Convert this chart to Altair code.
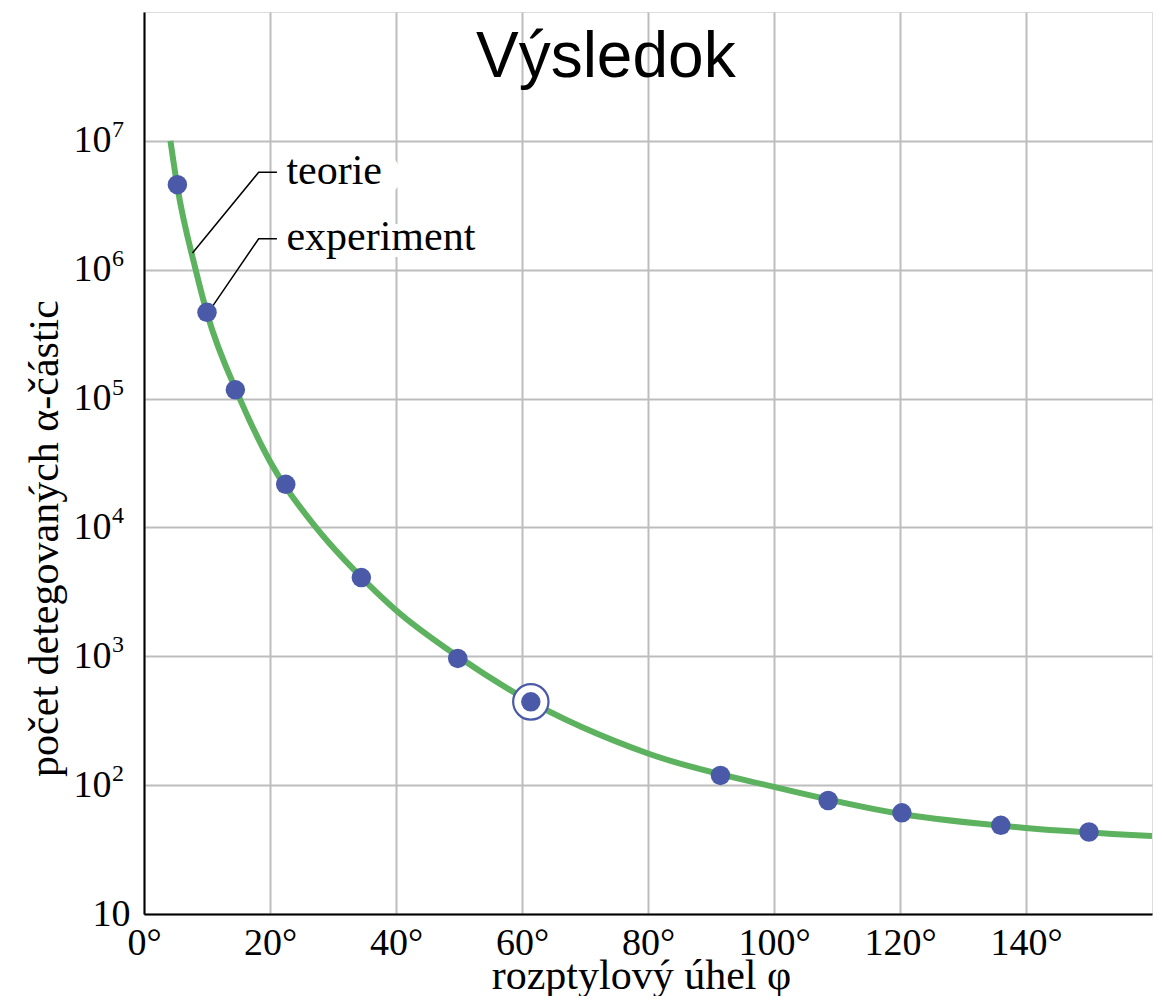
import altair as alt
import pandas as pd

# experiment (blue dots)
exp_angle = [5.3, 10.0, 14.5, 22.5, 34.5, 49.8, 61.4, 91.5, 108.6, 120.3, 136.0, 150.0]
exp_count = [4.57e6, 4.67e5, 1.17e5, 2.16e4, 4.08e3, 962, 443, 119, 76, 61, 48.8, 43.3]

# theory curve (green)
th_angle = [4.2, 5.26, 8.2, 10.0, 15.2, 20, 27.3, 34.5, 40, 49.8, 60, 80, 100, 120, 140, 160]
th_count = [1.0e7, 4.5e6, 1.0e6, 4.6e5, 1.0e5, 3.25e4, 1.0e4, 4.1e3, 2.28e3, 1.0e3, 484, 176, 97, 60, 46.5, 40.3]

# highlighted measurement
ring_angle = [61.4]
ring_count = [443]

# annotation labels and their leader lines
label_text = ["teorie", "experiment"]
label_angle = [22.6, 22.6]
label_count = [4.65e6, 1.42e6]
leader_group = ["teorie"] * 3 + ["experiment"] * 3
leader_order = [0, 1, 2, 0, 1, 2]
leader_angle = [7.7, 18.2, 21.1, 10.95, 18.2, 21.1]
leader_count = [1.35e6, 5.7e6, 5.7e6, 5.26e5, 1.74e6, 1.74e6]

title_text = ["Výsledok"]
title_angle = [73.3]
title_count = [3.12e7]

x_ticks = [0, 20, 40, 60, 80, 100, 120, 140]
y_ticks = [10, 100, 1e3, 1e4, 1e5, 1e6, 1e7]
# exponents written as superscripts next to the "10" tick labels
exp_tick_values = [1e2, 1e3, 1e4, 1e5, 1e6, 1e7]
exp_tick_text = ["2", "3", "4", "5", "6", "7"]

GREEN = "#5cb25e"
BLUE = "#4a5aa8"
GRID = "#bdbdbd"
SERIF = "Liberation Serif"

exp_df = pd.DataFrame({"angle": exp_angle, "count": exp_count})
th_df = pd.DataFrame({"angle": th_angle, "count": th_count})
ring_df = pd.DataFrame({"angle": ring_angle, "count": ring_count})
lab_df = pd.DataFrame({"angle": label_angle, "count": label_count, "text": label_text})
lead_df = pd.DataFrame({"angle": leader_angle, "count": leader_count,
                        "grp": leader_group, "ord": leader_order})
title_df = pd.DataFrame({"angle": title_angle, "count": title_count, "text": title_text})
sup_df = pd.DataFrame({"count": exp_tick_values, "text": exp_tick_text})

x_enc = alt.X(
    "angle:Q",
    scale=alt.Scale(domain=[0, 160], nice=False, zero=False),
    axis=alt.Axis(
        values=x_ticks,
        labelExpr="datum.value + '°'",
        title="rozptylový úhel φ",
        grid=True, gridColor=GRID, gridWidth=2,
        domainColor="black", domainWidth=2,
        ticks=False, tickSize=0,
        labelFont=SERIF, labelFontSize=38, labelColor="black",
        labelPadding=10, labelFlush=False, labelOverlap=False,
        titleFont=SERIF, titleFontSize=42, titleFontWeight="normal", titleColor="black",
        titleX=497, titleY=74, titleBaseline="alphabetic", titleAlign="center",
    ),
)
y_enc = alt.Y(
    "count:Q",
    scale=alt.Scale(type="log", domain=[10, 1e8], nice=False),
    axis=alt.Axis(
        values=y_ticks,
        labelExpr="'10'",
        labelAlign={"condition": {"test": "datum.value < 15", "value": "center"}, "value": "right"},
        title="počet detegovaných α-částic",
        grid=True, gridColor=GRID, gridWidth=2,
        domainColor="black", domainWidth=2,
        ticks=False, tickSize=0,
        labelFont=SERIF, labelFontSize=38, labelColor="black",
        labelPadding=33, labelFlush=False, labelOverlap=False,
        titleFont=SERIF, titleFontSize=42, titleFontWeight="normal", titleColor="black",
        titleX=-87, titleY=526, titleAngle=270, titleBaseline="alphabetic", titleAlign="center",
    ),
)

curve = alt.Chart(th_df).mark_line(
    interpolate="monotone", color=GREEN, strokeWidth=6, clip=True
).encode(x=x_enc, y=y_enc)

halo_teorie = alt.Chart(lab_df).transform_filter("datum.text == 'teorie'").mark_text(
    font=SERIF, fontSize=42, align="left", baseline="alphabetic",
    fill="white", stroke="white", strokeWidth=18, strokeJoin="round", dx=10
).encode(x=x_enc, y=y_enc, text="text:N")

halo_exp = alt.Chart(lab_df).transform_filter("datum.text == 'experiment'").mark_text(
    font=SERIF, fontSize=42, align="left", baseline="alphabetic",
    fill="white", stroke="white", strokeWidth=14, strokeJoin="round"
).encode(x=x_enc, y=y_enc, text="text:N")

leaders = alt.Chart(lead_df).mark_line(color="black", strokeWidth=1.5).encode(
    x=x_enc, y=y_enc, detail="grp:N", order="ord:Q"
)

labels = alt.Chart(lab_df).mark_text(
    font=SERIF, fontSize=42, align="left", baseline="alphabetic", color="black"
).encode(x=x_enc, y=y_enc, text="text:N")

ring = alt.Chart(ring_df).mark_point(
    shape="circle", filled=True, fill="white", stroke=BLUE, strokeWidth=2.2,
    size=1250, opacity=1
).encode(x=x_enc, y=y_enc)

dots = alt.Chart(exp_df).mark_circle(color=BLUE, size=380, opacity=1).encode(
    x=x_enc, y=y_enc
)

title = alt.Chart(title_df).mark_text(
    font="Liberation Sans", fontSize=64, align="center", baseline="alphabetic", color="black"
).encode(x=x_enc, y=y_enc, text="text:N")

superscripts = alt.Chart(sup_df).mark_text(
    font=SERIF, fontSize=24, align="left", baseline="alphabetic", color="black",
    dx=1, dy=-4, clip=False
).encode(x=alt.value(-33), y=y_enc, text="text:N")

chart = alt.layer(
    curve, halo_teorie, halo_exp, leaders, labels, ring, dots, title, superscripts
).properties(
    width=1008, height=902,
    autosize=alt.AutoSizeParams(type="none"),
    padding={"left": 136, "top": 4, "right": 2, "bottom": 82},
).configure_view(stroke=GRID, strokeWidth=2).configure(background="white")

chart.save("out.html", embed_options={"renderer": "svg", "actions": False})
